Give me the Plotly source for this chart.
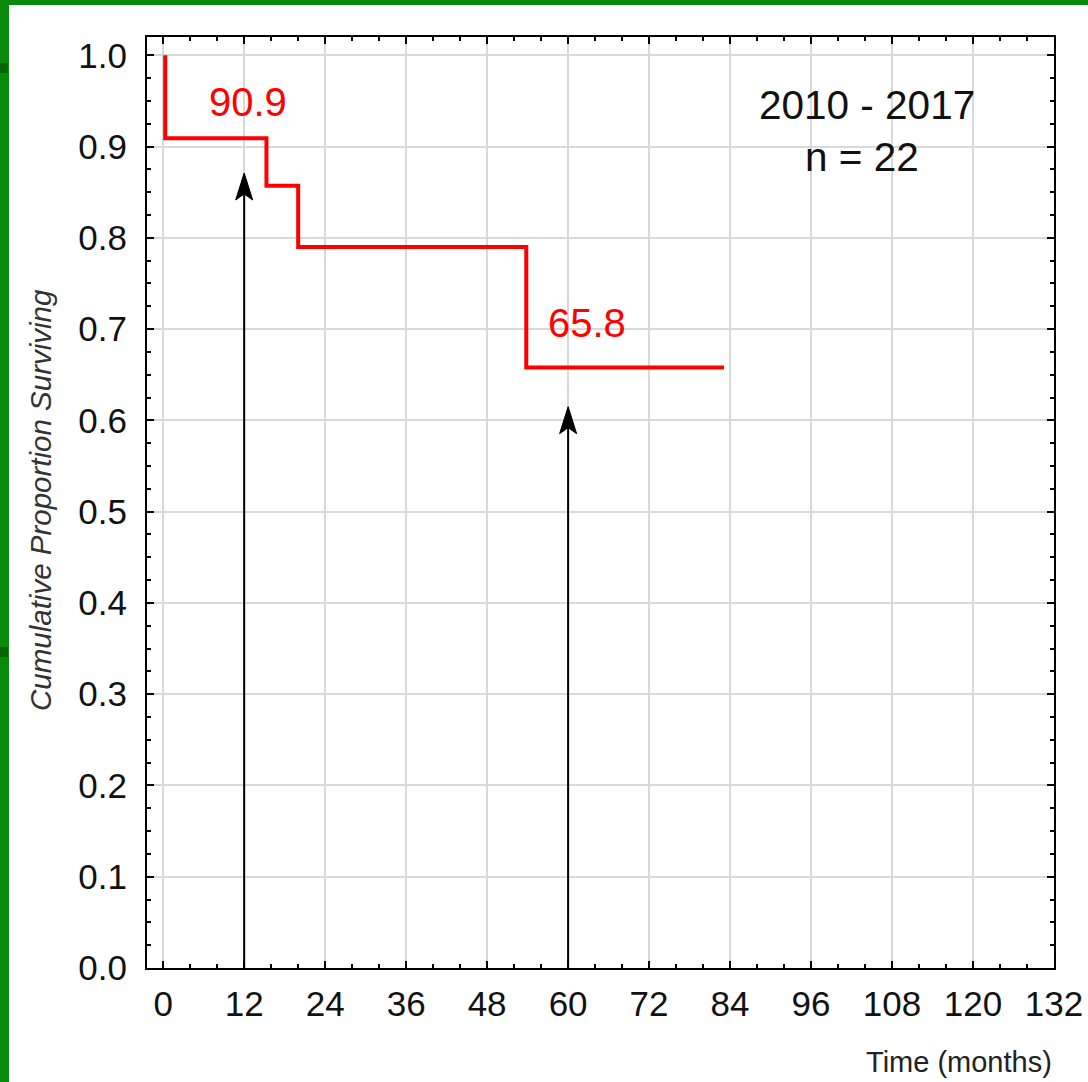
import plotly.graph_objects as go

# ---- data ----
time_months = [0.3, 0.3, 15.3, 20.0, 53.8, 83.1]
survival = [1.0, 0.909, 0.857, 0.790, 0.658, 0.658]

arrow_x = [12, 60]
arrow_tip = [0.871, 0.615]

label_texts = ["90.9", "65.8"]
label_x = [12.6, 62.8]
label_y = [0.949, 0.707]

info_texts = ["2010 - 2017", "n = 22"]
info_x = [104.3, 103.6]
info_y = [0.945, 0.889]

x_ticks = [0, 12, 24, 36, 48, 60, 72, 84, 96, 108, 120, 132]
y_ticks = [0.0, 0.1, 0.2, 0.3, 0.4, 0.5, 0.6, 0.7, 0.8, 0.9, 1.0]

# ---- layout geometry ----
W, H = 1088, 1082
ML, MR, MT, MB = 147, 34, 37, 114
PW, PH = W - ML - MR, H - MT - MB
X_RANGE = [-2.4, 132]
Y_RANGE = [0.0, 1.02]
FONT = "Liberation Sans, Arial, sans-serif"

def px_to_paper_x(px):
    return (px - ML) / PW

def px_to_paper_y(py):
    return (H - MB - py) / PH

# arrow head size (pixels -> data units)
x_per_px = (X_RANGE[1] - X_RANGE[0]) / PW
y_per_px = (Y_RANGE[1] - Y_RANGE[0]) / PH
head_hw = 8.5 * x_per_px
head_len = 27 * y_per_px
head_notch = 6 * y_per_px

fig = go.Figure()

fig.add_trace(go.Scatter(
    x=time_months, y=survival, mode="lines",
    line=dict(color="#ff0000", width=4, shape="hv"),
    hoverinfo="skip", showlegend=False,
))

for ax, tip in zip(arrow_x, arrow_tip):
    fig.add_trace(go.Scatter(
        x=[ax, ax], y=[0, tip - head_len + head_notch],
        mode="lines", line=dict(color="black", width=2),
        hoverinfo="skip", showlegend=False,
    ))
    fig.add_trace(go.Scatter(
        x=[ax, ax - head_hw, ax, ax + head_hw, ax],
        y=[tip, tip - head_len, tip - head_len + head_notch, tip - head_len, tip],
        mode="lines", fill="toself", fillcolor="black",
        line=dict(color="black", width=1),
        hoverinfo="skip", showlegend=False,
    ))

for t, x, y in zip(label_texts, label_x, label_y):
    fig.add_annotation(x=x, y=y, text=t, showarrow=False,
                       font=dict(family=FONT, size=40, color="#ff0000"),
                       xanchor="center", yanchor="middle")

for t, x, y in zip(info_texts, info_x, info_y):
    fig.add_annotation(x=x, y=y, text=t, showarrow=False,
                       font=dict(family=FONT, size=40.5, color="#111111"),
                       xanchor="center", yanchor="middle")

# axis titles
fig.add_annotation(xref="paper", yref="paper",
                   x=px_to_paper_x(40), y=px_to_paper_y(500),
                   text="<i>Cumulative Proportion Surviving</i>", textangle=-90,
                   showarrow=False, xanchor="center", yanchor="middle",
                   font=dict(family=FONT, size=29.5, color="#333333"))
fig.add_annotation(xref="paper", yref="paper",
                   x=px_to_paper_x(1054), y=px_to_paper_y(1062),
                   text="Time (months)", showarrow=False,
                   xanchor="right", yanchor="middle",
                   font=dict(family=FONT, size=29, color="#222222"))

# green frame
green = "#0a8a0a"
dark_green = "#056405"
frame = [
    (0, 0, 9, H, green),
    (0, 0, W, 5, green),
    (0, 63, 8, 73, dark_green),
    (0, 647, 8, 657, dark_green),
]
for x0, y0, x1, y1, c in frame:
    fig.add_shape(type="rect", xref="paper", yref="paper",
                  x0=px_to_paper_x(x0), x1=px_to_paper_x(x1),
                  y0=px_to_paper_y(y0), y1=px_to_paper_y(y1),
                  fillcolor=c, line=dict(width=0), layer="above")

axis_common = dict(
    showline=True, linecolor="black", linewidth=2, mirror="allticks",
    ticks="inside", ticklen=7, tickwidth=2, tickcolor="black",
    showgrid=True, gridcolor="#d9d9d9", gridwidth=1.5,
    zeroline=False, automargin=False,
    tickfont=dict(family=FONT, size=35, color="#111111"),
)

fig.update_xaxes(range=X_RANGE, tickvals=x_ticks,
                 ticktext=[str(v) for v in x_ticks],
                 ticklabelstandoff=4,
                 minor=dict(dtick=4, tick0=0, ticks="inside", ticklen=4,
                            tickwidth=1.5, tickcolor="black", showgrid=False),
                 **axis_common)
fig.update_yaxes(range=Y_RANGE, tickvals=y_ticks,
                 ticktext=[f"{v:.1f}" for v in y_ticks],
                 ticklabelstandoff=11,
                 minor=dict(dtick=0.025, tick0=0, ticks="inside", ticklen=4,
                            tickwidth=1.5, tickcolor="black", showgrid=False),
                 **axis_common)

fig.update_layout(
    width=W, height=H,
    margin=dict(l=ML, r=MR, t=MT, b=MB, pad=0, autoexpand=False),
    paper_bgcolor="white", plot_bgcolor="white",
    showlegend=False,
)

fig.write_html(
    "out.html",
    config={"displayModeBar": False},
    post_script="document.body.style.margin='0';document.body.style.overflow='hidden';",
)
